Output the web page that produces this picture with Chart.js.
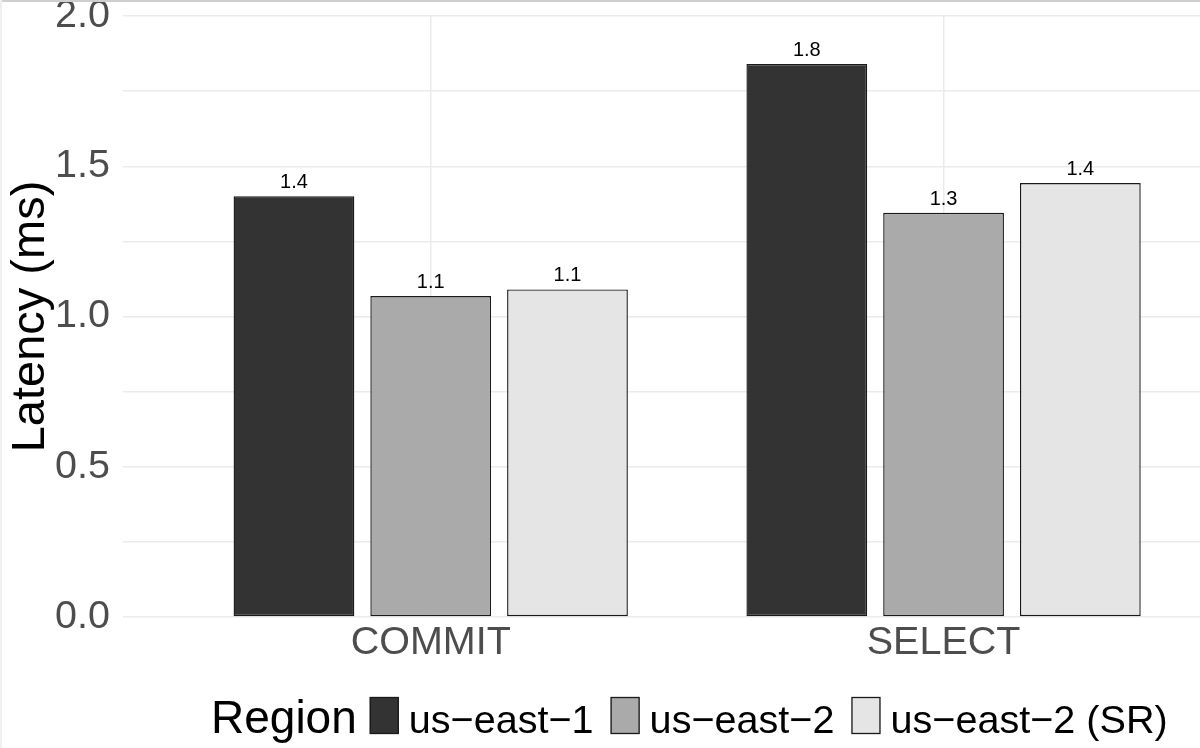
<!DOCTYPE html>
<html>
<head>
<meta charset="utf-8">
<script src="https://cdn.jsdelivr.net/npm/chart.js@4"></script>
<style>
html, body { margin: 0; padding: 0; background: #fff; overflow: hidden; }
#wrap { position: relative; width: 1200px; height: 748px; }
.edge { position: absolute; left: 0; top: 0; }
</style>
</head>
<body>
<div id="wrap">
  <canvas id="c" width="1200" height="748"></canvas>
  <div class="edge" style="width:1200px;height:2px;background:#cfcfcf"></div>
  <div class="edge" style="width:2px;height:748px;background:#efefef"></div>
</div>
<script>
// ---- data ----
const categories = ['COMMIT', 'SELECT'];
const seriesNames = ['us\u2212east\u22121', 'us\u2212east\u22122', 'us\u2212east\u22122 (SR)'];
const usEast1 = [1.40, 1.84];
const usEast2 = [1.068, 1.345];
const usEast2SR = [1.09, 1.444];
const seriesColors = ['#333333', '#aaaaaa', '#e5e5e5'];
const yTickValues = [0, 0.25, 0.5, 0.75, 1.0, 1.25, 1.5, 1.75, 2.0];
const yTickLabels = ['0.0', '', '0.5', '', '1.0', '', '1.5', '', '2.0'];
const legendTitle = 'Region';
const yTitle = 'Latency (ms)';

const FONT = '"Liberation Sans", Arial, Helvetica, sans-serif';
const seriesValues = [usEast1, usEast2, usEast2SR];

const datasets = seriesValues.map((vals, si) => ({
  label: seriesNames[si],
  data: vals.map((v, i) => ({ x: i + 1, y: v })),
  backgroundColor: seriesColors[si],
  borderColor: '#1a1a1a',
  borderWidth: 1.4,
  borderSkipped: false,
  categoryPercentage: 0.8,
  barPercentage: 0.883
}));

const valueLabels = {
  id: 'valueLabels',
  afterDatasetsDraw(chart) {
    const ctx = chart.ctx;
    ctx.save();
    ctx.font = '20px ' + FONT;
    ctx.fillStyle = '#000';
    ctx.textAlign = 'center';
    ctx.textBaseline = 'alphabetic';
    chart.data.datasets.forEach((ds, di) => {
      chart.getDatasetMeta(di).data.forEach((el, i) => {
        ctx.fillText(ds.data[i].y.toFixed(1), el.x, el.y - 8);
      });
    });
    ctx.restore();
  }
};

const inlineLegend = {
  id: 'inlineLegend',
  afterDraw(chart) {
    const ctx = chart.ctx;
    ctx.save();
    ctx.fillStyle = '#000';
    ctx.textAlign = 'left';
    ctx.textBaseline = 'alphabetic';
    const baseY = 733;
    let x = 211;
    ctx.font = '46px ' + FONT;
    ctx.fillText(legendTitle, x, baseY);
    x += ctx.measureText(legendTitle).width + 13;
    ctx.font = '39.6px ' + FONT;
    chart.data.datasets.forEach((ds) => {
      ctx.fillStyle = ds.backgroundColor;
      ctx.fillRect(x, 697, 29, 37);
      ctx.strokeStyle = '#1a1a1a';
      ctx.lineWidth = 1.3;
      ctx.strokeRect(x + 0.5, 697.5, 28, 36);
      x += 29 + 10;
      ctx.fillStyle = '#000';
      ctx.fillText(ds.label, x, baseY);
      x += ctx.measureText(ds.label).width + 17;
    });
    ctx.restore();
  }
};

new Chart(document.getElementById('c'), {
  type: 'bar',
  data: { datasets },
  options: {
    responsive: false,
    devicePixelRatio: 1,
    animation: false,
    layout: { padding: { top: 16, right: 0, bottom: 0, left: 0 } },
    plugins: { legend: { display: false }, tooltip: { enabled: false } },
    scales: {
      x: {
        type: 'linear',
        min: 0.4,
        max: 2.5,
        offset: false,
        afterBuildTicks(scale) {
          scale.ticks = categories.map((_, i) => ({ value: i + 1 }));
        },
        afterFit(scale) {
          scale.height = 131;
          scale.paddingLeft = 0;
          scale.paddingRight = 0;
        },
        grid: { color: '#ebebeb', lineWidth: 1.5, drawTicks: false, offset: false },
        border: { display: false },
        ticks: {
          autoSkip: false,
          maxRotation: 0,
          padding: 2,
          color: '#4d4d4d',
          font: { family: FONT, size: 39.5, lineHeight: 1.2 },
          callback: (v) => categories[Math.round(v) - 1] ?? ''
        }
      },
      y: {
        min: 0,
        max: 2,
        afterBuildTicks(scale) {
          scale.ticks = yTickValues.map(v => ({ value: v }));
        },
        afterFit(scale) {
          scale.width = 123;
          scale.paddingTop = 0;
          scale.paddingBottom = 0;
        },
        grid: { color: '#ebebeb', lineWidth: 1.5, drawTicks: false, offset: false },
        border: { display: false },
        ticks: {
          autoSkip: false,
          padding: 13,
          color: '#4d4d4d',
          font: { family: FONT, size: 39.5, lineHeight: 0.8 },
          callback: (v) => {
            const i = yTickValues.findIndex(t => Math.abs(t - v) < 1e-9);
            return i >= 0 ? yTickLabels[i] : '';
          }
        },
        title: {
          display: true,
          text: yTitle,
          color: '#000',
          font: { family: FONT, size: 47 },
          padding: { top: 3, bottom: 0 }
        }
      }
    }
  },
  plugins: [valueLabels, inlineLegend]
});
</script>
</body>
</html>
